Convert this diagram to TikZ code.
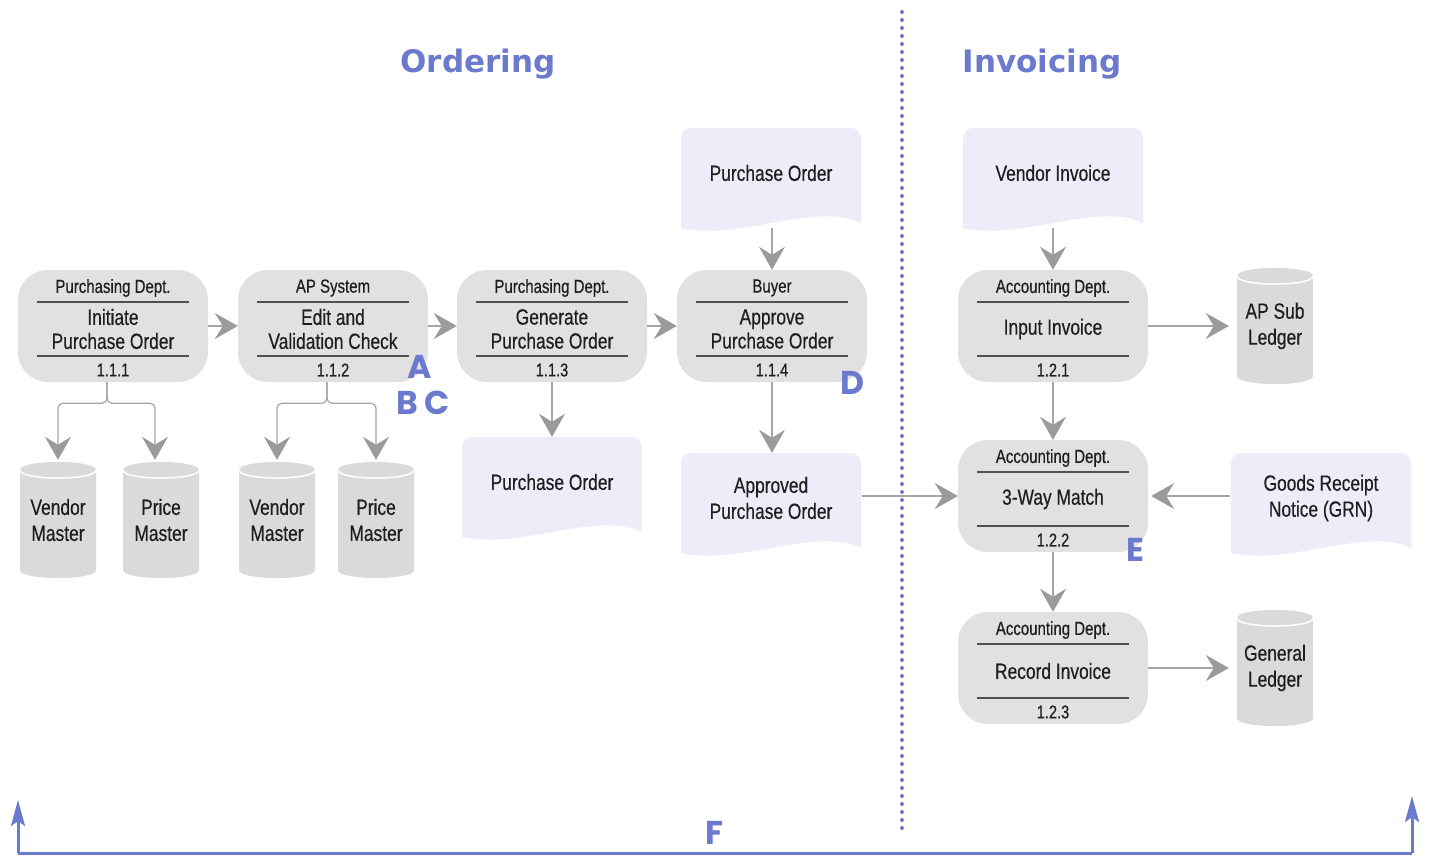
\documentclass[tikz,border=0pt]{standalone}
\usepackage{fontspec}
\setmainfont{Liberation Sans}[FakeStretch=0.79,FakeBold=0.4]
\newfontfamily\titlefont{DejaVu Sans}
\newfontfamily\letterfont{Poppins}
\usetikzlibrary{arrows.meta,calc}
\definecolor{procfill}{RGB}{225,225,225}
\definecolor{docfill}{RGB}{236,237,248}
\definecolor{dbfill}{RGB}{218,218,218}
\definecolor{txt}{RGB}{30,30,30}
\definecolor{sepgray}{RGB}{80,80,80}
\definecolor{arrgray}{RGB}{165,165,165}
\definecolor{arrhead}{RGB}{155,155,155}
\definecolor{bluish}{RGB}{108,122,206}
\definecolor{dotblue}{RGB}{112,122,196}
\tikzset{
 proc/.style={rectangle, rounded corners=30pt, fill=procfill, minimum width=190pt, minimum height=112pt, inner sep=0pt},
 toplbl/.style={font=\fontsize{19}{20}\selectfont, text=txt, inner sep=0pt},
 mainlbl/.style={font=\fontsize{22}{24}\selectfont, text=txt, align=center, inner sep=0pt},
 numlbl/.style={font=\fontsize{18.5}{20}\selectfont, text=txt, inner sep=0pt},
 sepline/.style={draw=sepgray, line width=1.2pt},
 doctxt/.style={font=\fontsize{22}{26}\selectfont, text=txt, align=center, inner sep=0pt},
 docbox/.style={rectangle, minimum width=181pt, minimum height=100pt, inner sep=0pt},
 dbbox/.style={rectangle, minimum width=76pt, minimum height=116pt, inner sep=0pt, font=\fontsize{22}{26}\selectfont, text=txt, align=center},
 arr/.style={draw=arrgray, line width=1.2pt, -{Stealth[length=23pt,width=26pt,inset=8pt,color=arrhead]}},
 bluearr/.style={draw=bluish, line width=3pt, -{Stealth[length=26pt,width=14pt,inset=5pt]}},
 bigtitle/.style={font=\titlefont\bfseries\fontsize{31}{34}\selectfont, text=bluish},
 letter/.style={font=\letterfont\bfseries\fontsize{33}{36}\selectfont, text=bluish, inner sep=0pt},
}
\newcommand{\procbox}[6]{%
 \node[proc] (#1) at (#2,#3) {};
 \node[toplbl] (#1t) at (#2,#3-38) {#4};
 \draw[sepline] (#2-76,#3-24) -- (#2+76,#3-24);
 \node[mainlbl] (#1m) at (#2,#3+3) {#5};
 \draw[sepline] (#2-76,#3+30) -- (#2+76,#3+30);
 \node[numlbl] (#1n) at (#2,#3+44) {#6};
}
\newcommand{\docnode}[4]{%
 \fill[docfill] (#2-90,#3+55) [rounded corners=10pt] -- (#2-90,#3-45) -- (#2+90,#3-45) [sharp corners] -- (#2+90,#3+50)
   .. controls (#2+45,#3+28) and (#2-30,#3+68) .. (#2-90,#3+55) -- cycle;
 \node[docbox] (#1) at (#2,#3+5) {};
 \node[doctxt] (#1t) at (#2,#3) {#4};
}
\newcommand{\dbnode}[4]{%
 \fill[dbfill] (#2-38,#3-50) -- (#2-38,#3+50) .. controls (#2-38,#3+60.7) and (#2+38,#3+60.7) .. (#2+38,#3+50)
   -- (#2+38,#3-50) .. controls (#2+38,#3-60.7) and (#2-38,#3-60.7) .. cycle;
 \draw[white, line width=1.5pt] (#2-38,#3-50) .. controls (#2-38,#3-39.3) and (#2+38,#3-39.3) .. (#2+38,#3-50);
 \node[dbbox] (#1) at (#2,#3) {#4};
}
\begin{document}
\begin{tikzpicture}[x=1pt,y=-1pt]
\useasboundingbox (0,0) rectangle (1430,855);
\fill[white] (0,0) rectangle (1430,855);

% titles
\node[bigtitle] (tord) at (478,64) {Ordering};
\node[bigtitle] (tinv) at (1042,64) {Invoicing};

% divider
\coordinate (dvt) at (902,12);
\coordinate (dvb) at (902,830);
\draw[dotblue, line width=4pt, line cap=round, dash pattern=on 0pt off 8pt] (dvt) -- (dvb);

% processes
\procbox{p111}{113}{326}{Purchasing Dept.}{Initiate\\Purchase Order}{1.1.1}
\procbox{p112}{333}{326}{AP System}{Edit and\\Validation Check}{1.1.2}
\procbox{p113}{552}{326}{Purchasing Dept.}{Generate\\Purchase Order}{1.1.3}
\procbox{p114}{772}{326}{Buyer}{Approve\\Purchase Order}{1.1.4}
\procbox{p121}{1053}{326}{Accounting Dept.}{Input Invoice}{1.2.1}
\procbox{p122}{1053}{496}{Accounting Dept.}{3-Way Match}{1.2.2}
\procbox{p123}{1053}{668}{Accounting Dept.}{Record Invoice}{1.2.3}

% documents
\docnode{poT}{771}{173}{Purchase Order}
\docnode{poB}{552}{482}{Purchase Order}
\docnode{apo}{771}{498}{Approved\\Purchase Order}
\docnode{vinv}{1053}{173}{Vendor Invoice}
\docnode{grn}{1321}{498}{Goods Receipt\\Notice (GRN)}

% data stores
\dbnode{vm1}{58}{520}{Vendor\\Master}
\dbnode{pm1}{161}{520}{Price\\Master}
\dbnode{vm2}{277}{520}{Vendor\\Master}
\dbnode{pm2}{376}{520}{Price\\Master}
\dbnode{apsub}{1275}{326}{AP Sub\\Ledger}
\dbnode{gl}{1275}{668}{General\\Ledger}

% connectors
\draw[arr] (p111.east) -- (p112.west);
\draw[arr] (p112.east) -- (p113.west);
\draw[arr] (p113.east) -- (p114.west);
\draw[arr, rounded corners=5pt] ($(p111.south)+(-6,0)$) -- ++(0,21) -| ($(vm1.north)+(0,-2)$);
\draw[arr, rounded corners=5pt] ($(p111.south)+(-6,0)$) -- ++(0,21) -| ($(pm1.north)+(-6,-2)$);
\draw[arr, rounded corners=5pt] ($(p112.south)+(-6,0)$) -- ++(0,21) -| ($(vm2.north)+(0,-2)$);
\draw[arr, rounded corners=5pt] ($(p112.south)+(-6,0)$) -- ++(0,21) -| ($(pm2.north)+(0,-2)$);
\draw[arr] (p113.south) -- (poB.north);
\draw[arr] (poT.south -| p114.north) -- (p114.north);
\draw[arr] (p114.south) -- (apo.north -| p114.south);
\draw[arr] (p122.west -| apo.east) -- (p122.west);
\draw[arr] (vinv.south) -- (p121.north);
\draw[arr] (p121.east) -- ($(apsub.west)+(-8,0)$);
\draw[arr] (p121.south) -- (p122.north);
\draw[arr] (p122.east -| grn.west) -- ($(p122.east)+(3,0)$);
\draw[arr] (p122.south) -- (p123.north);
\draw[arr] (p123.east) -- ($(gl.west)+(-8,0)$);

% letters
\node[letter] (la) at (420,367) {A};
\node[letter] (lb) at (407,403) {B};
\node[letter] (lc) at (437,403) {C};
\node[letter] (ld) at (852,383) {D};
\node[letter] (le) at (1135,550) {E};
\node[letter] (lf) at (715,833) {F};

% bottom frame
\coordinate (fl) at (18,853);
\coordinate (fr) at (1412,853);
\coordinate (flt) at (18,800);
\coordinate (frt) at (1412,796);
\draw[bluish, line width=3pt] (fl) -- (fr);
\draw[bluearr] (fl) -- (flt);
\draw[bluearr] (fr) -- (frt);
\end{tikzpicture}
\end{document}
